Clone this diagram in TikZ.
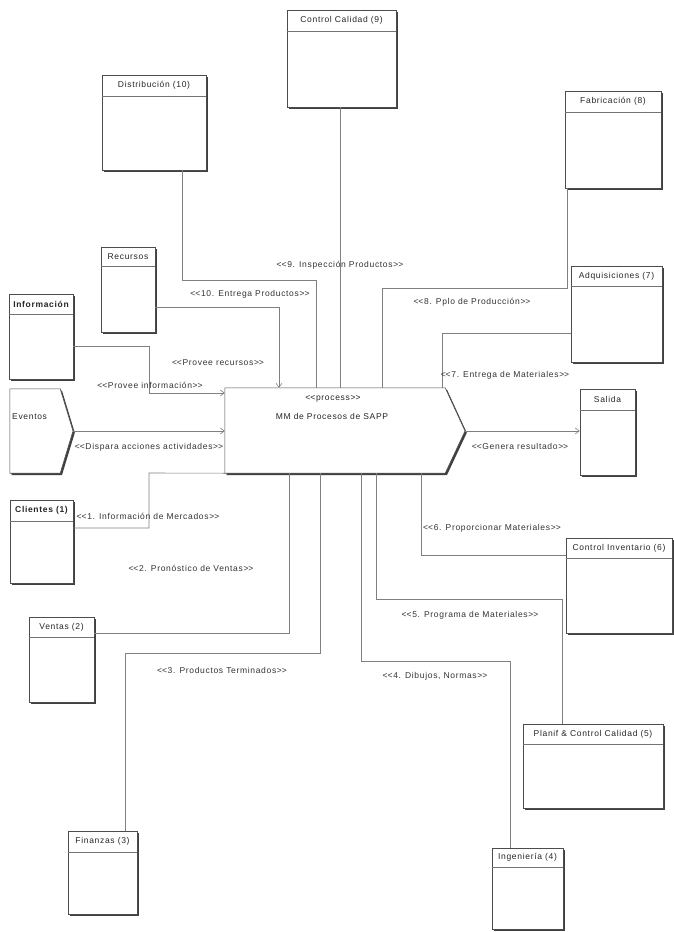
\documentclass[tikz,border=0pt]{standalone}
\usepackage{fontspec}
\setmainfont{Liberation Sans}[LetterSpace=8]
\usetikzlibrary{arrows.meta,fit,shadows}

% guillemet-style stereotype brackets written as two plain characters
\newcommand{\gl}{<\kern0pt<}
\newcommand{\gr}{>\kern0pt>}

\tikzset{
  umlbox/.style={draw=black!70, line width=0.6pt, fill=white, inner sep=0pt,
    drop shadow={shadow xshift=1.8pt, shadow yshift=-1.8pt, fill=black!75, opacity=1}},
  outline/.style={draw=black!70, line width=0.6pt, fill=white,
    drop shadow={shadow xshift=1.8pt, shadow yshift=-1.8pt, fill=black!75, opacity=1}},
  hdrline/.style={draw=black!55, line width=0.6pt},
  hdrtext/.style={font=\fontsize{8.5}{10}\selectfont, inner sep=0pt, text=black!85},
  conn/.style={draw=black!50, line width=0.6pt},
  flow/.style={conn, -{Straight Barb[length=4pt,width=6pt]}},
  lbl/.style={font=\fontsize{8.5}{10}\selectfont, inner sep=0pt, text=black!80},
}

% class box: [title style]{name}{x1}{y1}{x2}{y2}{header height}{title}
\newcommand{\classbox}[8][]{%
  \coordinate (#2-nw) at (#3,#4);
  \coordinate (#2-se) at (#5,#6);
  \node[umlbox, fit=(#2-nw)(#2-se)] (#2) {};
  \draw[hdrline] ([yshift=-#7pt]#2.north west) -- ([yshift=-#7pt]#2.north east);
  \node[hdrtext,#1] (#2-title) at ([yshift=-#7pt/2]#2.north) {#8};
}

\begin{document}
\begin{tikzpicture}[x=1pt,y=-1pt]
\useasboundingbox[fill=white] (0,0) rectangle (674,932);

% ---- classes ----
\classbox{cc}{287}{10}{396}{107}{22}{Control Calidad (9)}
\classbox{dist}{102}{75}{206}{170}{22}{Distribución (10)}
\classbox{fab}{565}{91}{661}{188}{22}{Fabricación (8)}
\classbox{rec}{101}{247}{155}{332}{20}{Recursos}
\classbox[font=\fontsize{8.5}{10}\selectfont\bfseries]{info}{9}{294}{73}{379}{21}{Información}
\classbox{adq}{571}{266}{662}{362}{21}{Adquisiciones (7)}
\classbox{sal}{580}{389}{635}{475}{22}{Salida}
\classbox[font=\fontsize{8.5}{10}\selectfont\bfseries]{cli}{10}{500}{73}{583}{22}{Clientes (1)}
\classbox{ven}{29}{617}{94}{702}{21}{Ventas (2)}
\classbox{cinv}{566}{538}{672}{633}{21}{Control Inventario (6)}
\classbox{plan}{523}{724}{663}{808}{21}{Planif \& Control Calidad (5)}
\classbox{ing}{492}{848}{563}{929}{20}{Ingeniería (4)}
\classbox{fin}{68}{831}{137}{914}{22}{Finanzas (3)}

% ---- event source ----
\coordinate (ev-nw) at (10,389);
\coordinate (ev-se) at (60,473);
\node[inner sep=0pt, fit=(ev-nw)(ev-se)] (ev) {};
\coordinate (ev-tip) at (73,431);
\path[outline] (ev.north west) -- (ev.north east) -- (ev-tip)
  -- (ev.south east) -- (ev.south west) -- cycle;
\node[hdrtext, anchor=west] (ev-title) at (12,417) {Eventos};

% ---- main process ----
\coordinate (proc-nw) at (225,388);
\coordinate (proc-se) at (445,473);
\node[inner sep=0pt, fit=(proc-nw)(proc-se)] (proc) {};
\coordinate (proc-tip) at (465,431);
\path[outline] (proc.north west) -- (proc.north east) -- (proc-tip)
  -- (proc.south east) -- (proc.south west) -- cycle;
\node[hdrtext] (proc-st) at (333,399) {\gl process\gr};
\node[hdrtext] (proc-name) at (332,416) {MM de Procesos de SAPP};

% ---- inputs ----
\draw[flow] (rec.east |- 0,307) -| (279,0 |- proc.north);
\draw[flow] (info.east |- 0,346) -| (149,393) -- (proc.west |- 0,393);
\draw[flow] (ev-tip) -- (proc.west |- 0,431);
\draw[flow] (proc-tip) -- (sal.west |- 0,431);

% ---- numbered relations ----
\draw[conn] (cli.east |- 0,528) -| (149,473) -- (proc.south west);
\draw[conn] (ven.east |- 0,633) -| (289,0 |- proc.south);
\draw[conn] (320,0 |- proc.south) |- (125,653) -- (125,0 |- fin.north);
\draw[conn] (361,0 |- proc.south) |- (510,661) -- (510,0 |- ing.north);
\draw[conn] (376,0 |- proc.south) |- (562,599) -- (562,0 |- plan.north);
\draw[conn] (421,0 |- proc.south) |- (cinv.west |- 0,555);
\draw[conn] (442,0 |- proc.north) |- (adq.west |- 0,333);
\draw[conn] (382,0 |- proc.north) |- (567,288) -- (567,0 |- fab.south);
\draw[conn] (340,0 |- cc.south) -- (340,0 |- proc.north);
\draw[conn] (182,0 |- dist.south) |- (316,280) -- (316,0 |- proc.north);

% ---- relation labels ----
\node[lbl] (l1) at (148,516) {\gl 1. Información de Mercados\gr};
\node[lbl] (l2) at (191,568) {\gl 2. Pronóstico de Ventas\gr};
\node[lbl] (l3) at (222,670) {\gl 3. Productos Terminados\gr};
\node[lbl] (l4) at (435,676) {\gl 4. Dibujos, Normas\gr};
\node[lbl] (l5) at (470,615) {\gl 5. Programa de Materiales\gr};
\node[lbl] (l6) at (492,528) {\gl 6. Proporcionar Materiales\gr};
\node[lbl] (l7) at (505,375) {\gl 7. Entrega de Materiales\gr};
\node[lbl] (l8) at (472,302) {\gl 8. Pplo de Producción\gr};
\node[lbl] (l9) at (340,265) {\gl 9. Inspección Productos\gr};
\node[lbl] (l10) at (250,294) {\gl 10. Entrega Productos\gr};
\node[lbl] (lrec) at (218,363) {\gl Provee recursos\gr};
\node[lbl] (linfo) at (150,385) {\gl Provee información\gr};
\node[lbl] (lev) at (149,447) {\gl Dispara acciones actividades\gr};
\node[lbl] (lsal) at (520,446) {\gl Genera resultado\gr};
\end{tikzpicture}
\end{document}
